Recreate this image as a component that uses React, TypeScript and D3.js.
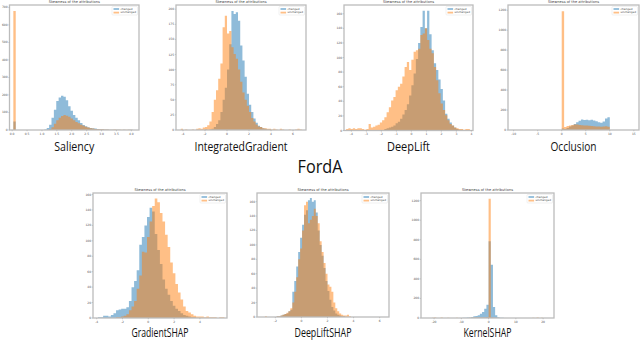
import * as d3 from "d3";

// ---- data: histogram counts per bin ----
const salChanged = [48, 0, 0, 0, 0, 0, 0, 0, 0, 0, 0, 0, 0, 3, 12, 30, 70, 115, 165, 185, 195, 190, 170, 135, 110, 85, 70, 55, 40, 28, 22, 16, 12, 10, 8, 6, 5, 4, 3, 3, 2, 2, 1, 1, 1, 0, 1, 0, 1, 1];
const salUnchanged = [680, 0, 0, 0, 0, 0, 0, 0, 0, 0, 0, 0, 0, 0, 0, 5, 15, 35, 55, 70, 80, 86, 82, 75, 65, 55, 45, 38, 30, 24, 18, 14, 10, 8, 6, 5, 4, 4, 3, 3, 2, 2, 3, 1, 1, 1, 1, 1, 2, 1];

const igChanged = [0, 0, 0, 0, 0, 0, 0, 0, 0, 0, 0, 1, 0, 1, 2, 5, 10, 16, 30, 50, 70, 100, 142, 197, 192, 195, 181, 140, 115, 88, 60, 42, 30, 19, 12, 7, 5, 3, 2, 1, 1, 0, 0, 0, 0, 0, 0, 0, 0, 0, 0, 0, 0, 0, 0];
const igUnchanged = [2, 0, 1, 0, 0, 1, 0, 2, 3, 2, 4, 5, 8, 14, 30, 50, 66, 85, 110, 170, 189, 160, 164, 137, 126, 118, 100, 80, 62, 50, 40, 30, 20, 14, 9, 6, 5, 3, 3, 2, 2, 1, 2, 1, 0, 2, 1, 0, 0, 1, 0, 0, 1, 2, 1];

const dlChanged = [0, 0, 0, 0, 0, 0, 0, 0, 0, 0, 0, 0, 0, 0, 0, 0, 0, 2, 3, 4, 5, 7, 10, 12, 16, 22, 28, 36, 48, 62, 78, 98, 120, 142, 164, 140, 164, 132, 110, 92, 83, 70, 57, 41, 23, 16, 11, 7, 4, 2, 1, 1, 0, 0, 0];
const dlUnchanged = [2, 3, 2, 3, 2, 3, 3, 2, 1, 2, 9, 4, 5, 7, 8, 11, 14, 18, 25, 32, 41, 46, 55, 60, 64, 74, 87, 94, 83, 97, 108, 110, 112, 131, 133, 140, 124, 112, 106, 87, 69, 51, 37, 28, 21, 14, 9, 7, 4, 3, 2, 2, 1, 2, 2];

const occChanged = [1, 0, 0, 0, 0, 0, 0, 0, 0, 0, 0, 0, 0, 0, 0, 0, 0, 0, 0, 0, 15, 10, 20, 35, 45, 60, 78, 93, 105, 100, 103, 97, 102, 95, 88, 78, 72, 85, 115, 127, 0, 0, 0, 0, 0, 0, 0, 0, 0, 1];
const occUnchanged = [1, 0, 0, 0, 0, 0, 0, 0, 0, 0, 0, 0, 0, 0, 0, 0, 0, 0, 0, 0, 1190, 30, 40, 45, 50, 55, 55, 50, 48, 45, 45, 42, 40, 38, 35, 35, 33, 35, 38, 32, 0, 0, 0, 0, 0, 0, 0, 0, 0, 1];

const gsChanged = [1, 1, 3, 3, 2, 4, 6, 10, 11, 12, 12, 14, 22, 40, 48, 62, 95, 105, 120, 131, 143, 138, 109, 88, 70, 50, 38, 30, 22, 16, 12, 9, 6, 4, 3, 2, 1, 1, 0, 0, 0, 0, 0, 0, 0, 0, 0, 0, 0];
const gsUnchanged = [0, 0, 0, 0, 0, 0, 0, 1, 1, 2, 3, 5, 10, 15, 22, 38, 55, 86, 85, 105, 125, 145, 155, 150, 136, 125, 108, 92, 72, 58, 44, 33, 24, 15, 9, 7, 5, 3, 2, 2, 2, 1, 2, 1, 1, 1, 0, 1, 1];

const dlsChanged = [0, 0, 0, 0, 0, 0, 1, 1, 2, 3, 4, 5, 8, 10, 35, 50, 70, 90, 110, 128, 142, 148, 162, 165, 160, 162, 145, 120, 100, 85, 68, 50, 36, 24, 14, 9, 5, 3, 2, 1, 1, 0, 0, 0];
const dlsUnchanged = [1, 0, 0, 0, 0, 0, 1, 1, 2, 3, 4, 6, 8, 12, 20, 35, 55, 80, 95, 120, 155, 160, 130, 135, 140, 150, 140, 130, 105, 90, 75, 60, 45, 42, 35, 20, 12, 8, 5, 3, 2, 2, 3, 1];

const ksChanged = [0, 0, 0, 1, 0, 0, 0, 0, 0, 0, 1, 0, 1, 0, 1, 2, 3, 4, 6, 10, 17, 20, 27, 44, 61, 95, 136, 785, 545, 112, 27, 8, 3, 2, 1, 0, 0, 0, 0, 0, 0, 0, 0, 0, 0, 0, 0, 0, 0, 0, 0, 0, 0, 0, 0];
const ksUnchanged = [0, 3, 4, 0, 0, 5, 0, 0, 3, 0, 0, 0, 2, 0, 0, 0, 0, 0, 2, 3, 4, 5, 6, 5, 5, 6, 8, 1220, 6, 3, 2, 0, 0, 0, 0, 0, 0, 0, 0, 0, 0, 0, 0, 0, 0, 0, 0, 3, 0, 4, 0, 3, 0, 0, 0];

const legendNames = ["changed", "unchanged"];
const chartTitle = "Skewness of the attributions";
const datasetName = "FordA";

const blue = "#1f77b4";
const orange = "#ff7f0e";

type HistProps = {
  box: [number, number, number, number];
  xDomain: [number, number];
  yDomain: [number, number];
  xTicks: number[];
  yTicks: number[];
  xFmt?: (v: number) => string;
  binStart: number;
  binWidth: number;
  changed: number[];
  unchanged: number[];
  label: string;
  labelWidth: number;
  labelY: number;
};

function Hist(p: HistProps) {
  const [x0, y0, x1, y1] = p.box;
  const x = d3.scaleLinear().domain(p.xDomain).range([x0, x1]);
  const y = d3.scaleLinear().domain(p.yDomain).range([y1, y0]);
  const fmt = p.xFmt || ((v: number) => String(v));

  // step outline of a histogram
  const step = (counts: number[]) => {
    const pts: [number, number][] = counts.map((c, i) => [p.binStart + i * p.binWidth, c]);
    pts.push([p.binStart + counts.length * p.binWidth, counts[counts.length - 1]]);
    return d3
      .area<[number, number]>()
      .x((d) => x(d[0]))
      .y0(y(0))
      .y1((d) => y(d[1]))
      .curve(d3.curveStepAfter)(pts) as string;
  };

  const lx = x1 - 27;
  const ly = y0 + 1.5;
  return (
    <g>
      <text x={(x0 + x1) / 2} y={y0 - 2} fontSize={3.6} textAnchor="middle" fill="#444" fontFamily="DejaVu Sans">
        {chartTitle}
      </text>
      <path d={step(p.changed)} fill={blue} fillOpacity={0.5} />
      <path d={step(p.unchanged)} fill={orange} fillOpacity={0.5} />
      <rect x={x0} y={y0} width={x1 - x0} height={y1 - y0} fill="none" stroke="#bcbcbc" strokeWidth={1.3} />
      {p.xTicks.map((t) => (
        <g key={"x" + t}>
          <line x1={x(t)} x2={x(t)} y1={y1} y2={y1 + 1.3} stroke="#999" strokeWidth={0.4} />
          <text x={x(t)} y={y1 + 4.6} fontSize={3} textAnchor="middle" fill="#555" fontFamily="DejaVu Sans">
            {fmt(t)}
          </text>
        </g>
      ))}
      {p.yTicks.map((t) => (
        <g key={"y" + t}>
          <line x1={x0 - 1.3} x2={x0} y1={y(t)} y2={y(t)} stroke="#999" strokeWidth={0.4} />
          <text x={x0 - 1.8} y={y(t) + 1} fontSize={3} textAnchor="end" fill="#555" fontFamily="DejaVu Sans">
            {t}
          </text>
        </g>
      ))}
      <rect x={lx} y={ly} width={25.5} height={8.5} rx={0.8} fill="#fff" fillOpacity={0.8} stroke="#dcdcdc" strokeWidth={0.4} />
      {legendNames.map((n, i) => (
        <g key={n}>
          <rect x={lx + 1.5} y={ly + 1.6 + i * 3.6} width={5.6} height={1.8} fill={i ? orange : blue} fillOpacity={0.5} />
          <text x={lx + 8.5} y={ly + 3.3 + i * 3.6} fontSize={2.8} fill="#444" fontFamily="DejaVu Sans">
            {n}
          </text>
        </g>
      ))}
      <text
        x={(x0 + x1) / 2}
        y={p.labelY}
        fontSize={13}
        textAnchor="middle"
        fill="#111"
        fontFamily="Open Sans"
        textLength={p.labelWidth}
        lengthAdjust="spacingAndGlyphs"
      >
        {p.label}
      </text>
    </g>
  );
}

const step1 = (a: number, b: number, s: number) => d3.range(a, b + s / 2, s);

export default function App() {
  return (
    <svg width={640} height={341} style={{ position: "absolute", left: 0, top: 0, background: "#fff" }}>
      <Hist
        box={[9.5, 5, 139, 130]}
        xDomain={[-0.089, 4.256]}
        yDomain={[0, 714]}
        xTicks={step1(0, 4, 0.5)}
        yTicks={step1(0, 700, 100)}
        xFmt={(v) => v.toFixed(1)}
        binStart={0.04}
        binWidth={0.08}
        changed={salChanged}
        unchanged={salUnchanged}
        label="Saliency"
        labelWidth={40}
        labelY={151}
      />
      <Hist
        box={[176, 5, 306, 130]}
        xDomain={[-4.636, 7.18]}
        yDomain={[0, 207]}
        xTicks={step1(-4, 6, 2)}
        yTicks={step1(0, 200, 25)}
        binStart={-4.2}
        binWidth={0.2}
        changed={igChanged}
        unchanged={igUnchanged}
        label="IntegratedGradient"
        labelWidth={93}
        labelY={151}
      />
      <Hist
        box={[344, 5, 473, 130.5]}
        xDomain={[-4.49, 4.11]}
        yDomain={[0, 172]}
        xTicks={step1(-4, 4, 1)}
        yTicks={step1(0, 160, 20)}
        binStart={-4.35}
        binWidth={0.15}
        changed={dlChanged}
        unchanged={dlUnchanged}
        label="DeepLift"
        labelWidth={43}
        labelY={151}
      />
      <Hist
        box={[508, 5, 639, 130]}
        xDomain={[-11.17, 16.07]}
        yDomain={[0, 1253]}
        xTicks={step1(-10, 15, 5)}
        yTicks={step1(0, 1200, 200)}
        binStart={-10}
        binWidth={0.5}
        changed={occChanged}
        unchanged={occUnchanged}
        label="Occlusion"
        labelWidth={46}
        labelY={151}
      />
      <text x={320} y={173} fontSize={18} textAnchor="middle" fill="#111" fontFamily="Open Sans" textLength={45} lengthAdjust="spacingAndGlyphs">
        {datasetName}
      </text>
      <Hist
        box={[93, 193, 227, 318]}
        xDomain={[-4.286, 6.1]}
        yDomain={[0, 162]}
        xTicks={step1(-4, 4, 2)}
        yTicks={step1(0, 160, 20)}
        binStart={-3.9}
        binWidth={0.2}
        changed={gsChanged}
        unchanged={gsUnchanged}
        label="GradientSHAP"
        labelWidth={57}
        labelY={336.5}
      />
      <Hist
        box={[257, 193, 389, 317]}
        xDomain={[-3.41, 6.72]}
        yDomain={[0, 172]}
        xTicks={step1(-2, 6, 2)}
        yTicks={step1(0, 160, 20)}
        binStart={-2.8}
        binWidth={0.15}
        changed={dlsChanged}
        unchanged={dlsUnchanged}
        label="DeepLiftSHAP"
        labelWidth={57}
        labelY={336.5}
      />
      <Hist
        box={[421, 193, 554, 318]}
        xDomain={[-24.8, 24.0]}
        yDomain={[0, 1278]}
        xTicks={step1(-20, 20, 10)}
        yTicks={step1(0, 1200, 200)}
        binStart={-21.6}
        binWidth={0.8}
        changed={ksChanged}
        unchanged={ksUnchanged}
        label="KernelSHAP"
        labelWidth={48}
        labelY={336.5}
      />
    </svg>
  );
}
